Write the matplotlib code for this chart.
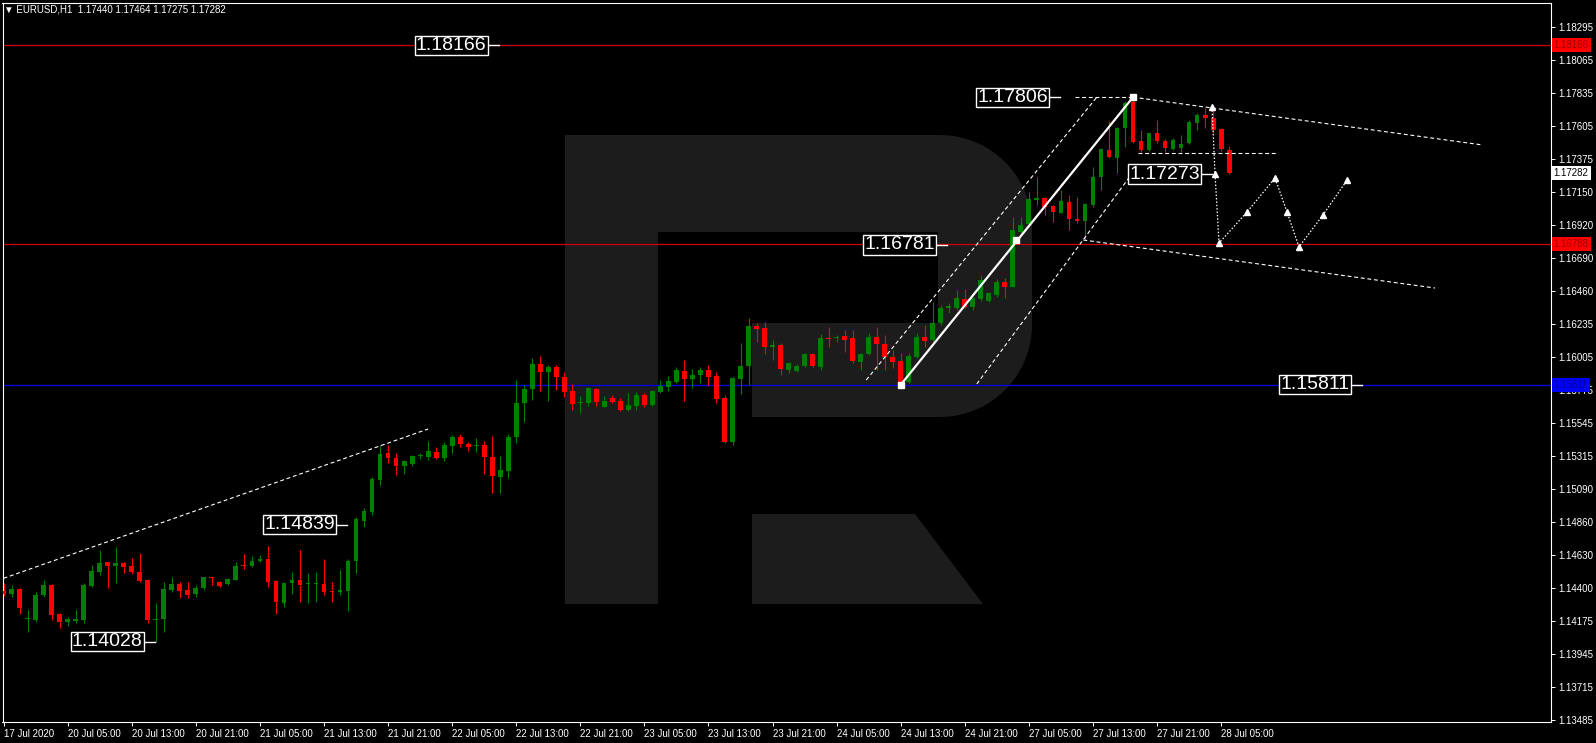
import matplotlib
matplotlib.use('Agg')
import matplotlib.pyplot as plt
from matplotlib.patches import Polygon
import numpy as np

# ---------------- data ----------------
opens = [1.14380, 1.14359, 1.14391, 1.14183, 1.14179, 1.14352, 1.14422, 1.14218, 1.14165, 1.14175,
         1.14179, 1.14417, 1.14509, 1.14579, 1.14553, 1.14577, 1.14553, 1.14514, 1.14456, 1.14179,
         1.14183, 1.14387, 1.14426, 1.14387, 1.14359, 1.14398, 1.14475, 1.14440, 1.14429, 1.14456,
         1.14556, 1.14553, 1.14590, 1.14600, 1.14452, 1.14299, 1.14433, 1.14456, 1.14431, 1.14431,
         1.14429, 1.14380, 1.14373, 1.14382, 1.14585, 1.14866, 1.14930, 1.15150, 1.15335, 1.15305,
         1.15249, 1.15261, 1.15315, 1.15312, 1.15346, 1.15305, 1.15388, 1.15451, 1.15397, 1.15386,
         1.15393, 1.15312, 1.15173, 1.15215, 1.15446, 1.15682, 1.15779, 1.15955, 1.15902, 1.15932,
         1.15862, 1.15770, 1.15684, 1.15682, 1.15779, 1.15659, 1.15722, 1.15698, 1.15636, 1.15663,
         1.15740, 1.15670, 1.15763, 1.15797, 1.15832, 1.15906, 1.15851, 1.15878, 1.15913, 1.15872,
         1.15717, 1.15416, 1.15851, 1.15943, 1.16218, 1.16202, 1.16075, 1.16087, 1.15913, 1.15906,
         1.15941, 1.16022, 1.15937, 1.16135, 1.16133, 1.16149, 1.16133, 1.15971, 1.16022, 1.16140,
         1.16094, 1.16006, 1.15976, 1.15832, 1.16006, 1.16145, 1.16121, 1.16242, 1.16341, 1.16341,
         1.16403, 1.16348, 1.16403, 1.16394, 1.16434, 1.16526, 1.16491, 1.16873, 1.16926, 1.17093,
         1.17104, 1.17051, 1.17005, 1.17081, 1.16961, 1.16949, 1.17058, 1.17255, 1.17440, 1.17386,
         1.17590, 1.17775, 1.17502, 1.17440, 1.17560, 1.17502, 1.17446, 1.17456, 1.17486, 1.17629,
         1.17682, 1.17659, 1.17583, 1.17440]
highs = [1.14433, 1.14422, 1.14398, 1.14248, 1.14375, 1.14456, 1.14429, 1.14230, 1.14202, 1.14248,
         1.14433, 1.14560, 1.14664, 1.14583, 1.14683, 1.14583, 1.14611, 1.14641, 1.14463, 1.14294,
         1.14445, 1.14479, 1.14445, 1.14445, 1.14422, 1.14479, 1.14479, 1.14449, 1.14468, 1.14583,
         1.14637, 1.14623, 1.14630, 1.14692, 1.14456, 1.14445, 1.14514, 1.14664, 1.14503, 1.14514,
         1.14602, 1.14445, 1.14526, 1.14600, 1.14890, 1.14953, 1.15173, 1.15393, 1.15393, 1.15340,
         1.15289, 1.15323, 1.15340, 1.15423, 1.15381, 1.15416, 1.15463, 1.15469, 1.15416, 1.15439,
         1.15421, 1.15455, 1.15317, 1.15469, 1.15844, 1.15809, 1.15999, 1.16010, 1.15948, 1.15948,
         1.15902, 1.15816, 1.15733, 1.15797, 1.15786, 1.15733, 1.15740, 1.15717, 1.15756, 1.15763,
         1.15751, 1.15774, 1.15844, 1.15872, 1.15936, 1.15983, 1.15918, 1.15936, 1.15948, 1.15902,
         1.15740, 1.15867, 1.16098, 1.16272, 1.16237, 1.16249, 1.16121, 1.16098, 1.15971, 1.15955,
         1.16034, 1.16029, 1.16163, 1.16214, 1.16156, 1.16191, 1.16191, 1.16029, 1.16168, 1.16214,
         1.16156, 1.16052, 1.16034, 1.16029, 1.16168, 1.16225, 1.16387, 1.16364, 1.16376, 1.16468,
         1.16473, 1.16422, 1.16572, 1.16457, 1.16542, 1.16549, 1.16977, 1.16977, 1.17150, 1.17255,
         1.17116, 1.17058, 1.17162, 1.17127, 1.17116, 1.17070, 1.17324, 1.17451, 1.17643, 1.17601,
         1.17782, 1.17806, 1.17578, 1.17560, 1.17648, 1.17514, 1.17520, 1.17544, 1.17648, 1.17694,
         1.17729, 1.17740, 1.17590, 1.17464]
lows = [1.14345, 1.14336, 1.14220, 1.14098, 1.14167, 1.14341, 1.14179, 1.14121, 1.14137, 1.14156,
        1.14156, 1.14410, 1.14491, 1.14398, 1.14433, 1.14503, 1.14498, 1.14445, 1.14156, 1.14028,
        1.14098, 1.14375, 1.14329, 1.14329, 1.14341, 1.14387, 1.14422, 1.14405, 1.14422, 1.14456,
        1.14533, 1.14544, 1.14583, 1.14405, 1.14220, 1.14271, 1.14359, 1.14306, 1.14294, 1.14306,
        1.14352, 1.14306, 1.14352, 1.14243, 1.14503, 1.14826, 1.14907, 1.15115, 1.15266, 1.15185,
        1.15192, 1.15247, 1.15293, 1.15289, 1.15293, 1.15284, 1.15335, 1.15381, 1.15353, 1.15346,
        1.15192, 1.15057, 1.15057, 1.15162, 1.15404, 1.15555, 1.15705, 1.15770, 1.15700, 1.15774,
        1.15728, 1.15636, 1.15617, 1.15663, 1.15663, 1.15654, 1.15682, 1.15631, 1.15631, 1.15636,
        1.15654, 1.15663, 1.15751, 1.15770, 1.15825, 1.15698, 1.15786, 1.15820, 1.15809, 1.15682,
        1.15409, 1.15393, 1.15747, 1.15809, 1.16110, 1.16024, 1.15983, 1.15879, 1.15895, 1.15897,
        1.15932, 1.15937, 1.15913, 1.16075, 1.16110, 1.16040, 1.15964, 1.15913, 1.16017, 1.15913,
        1.15913, 1.15925, 1.15811, 1.15825, 1.15994, 1.16075, 1.16110, 1.16225, 1.16306, 1.16329,
        1.16341, 1.16329, 1.16394, 1.16387, 1.16422, 1.16410, 1.16487, 1.16861, 1.16908, 1.17058,
        1.16988, 1.16942, 1.17000, 1.16884, 1.16931, 1.16815, 1.17046, 1.17162, 1.17382, 1.17278,
        1.17463, 1.17490, 1.17428, 1.17435, 1.17486, 1.17428, 1.17440, 1.17428, 1.17481, 1.17578,
        1.17590, 1.17560, 1.17435, 1.17275]
closes = [1.14359, 1.14391, 1.14260, 1.14190, 1.14352, 1.14422, 1.14213, 1.14165, 1.14183, 1.14183,
          1.14422, 1.14521, 1.14577, 1.14553, 1.14577, 1.14549, 1.14514, 1.14452, 1.14179, 1.14183,
          1.14391, 1.14426, 1.14382, 1.14352, 1.14403, 1.14475, 1.14468, 1.14417, 1.14463, 1.14553,
          1.14551, 1.14588, 1.14600, 1.14445, 1.14304, 1.14433, 1.14456, 1.14419, 1.14435, 1.14435,
          1.14375, 1.14376, 1.14387, 1.14588, 1.14880, 1.14935, 1.15157, 1.15330, 1.15305, 1.15249,
          1.15282, 1.15319, 1.15319, 1.15351, 1.15300, 1.15393, 1.15451, 1.15397, 1.15381, 1.15390,
          1.15312, 1.15180, 1.15219, 1.15451, 1.15687, 1.15779, 1.15955, 1.15902, 1.15936, 1.15862,
          1.15763, 1.15677, 1.15688, 1.15786, 1.15693, 1.15698, 1.15693, 1.15636, 1.15670, 1.15740,
          1.15670, 1.15770, 1.15802, 1.15837, 1.15913, 1.15851, 1.15878, 1.15913, 1.15862, 1.15712,
          1.15416, 1.15855, 1.15943, 1.16218, 1.16198, 1.16075, 1.16087, 1.15918, 1.15964, 1.15941,
          1.16022, 1.15941, 1.16133, 1.16126, 1.16145, 1.16121, 1.15978, 1.16022, 1.16140, 1.16094,
          1.16001, 1.15971, 1.15832, 1.16010, 1.16145, 1.16117, 1.16242, 1.16341, 1.16357, 1.16410,
          1.16352, 1.16410, 1.16538, 1.16445, 1.16526, 1.16491, 1.16884, 1.16919, 1.17097, 1.17104,
          1.17046, 1.17012, 1.17086, 1.16958, 1.16949, 1.17065, 1.17255, 1.17444, 1.17389, 1.17590,
          1.17768, 1.17497, 1.17440, 1.17555, 1.17502, 1.17451, 1.17509, 1.17481, 1.17636, 1.17682,
          1.17659, 1.17578, 1.17444, 1.17282]

x_tick_labels = ["17 Jul 2020", "20 Jul 05:00", "20 Jul 13:00", "20 Jul 21:00", "21 Jul 05:00",
                 "21 Jul 13:00", "21 Jul 21:00", "22 Jul 05:00", "22 Jul 13:00", "22 Jul 21:00",
                 "23 Jul 05:00", "23 Jul 13:00", "23 Jul 21:00", "24 Jul 05:00", "24 Jul 13:00",
                 "24 Jul 21:00", "27 Jul 05:00", "27 Jul 13:00", "27 Jul 21:00", "28 Jul 05:00"]
x_tick_step = 8
y_tick_values = [1.18295, 1.18065, 1.17835, 1.17605, 1.17375, 1.17150, 1.16920, 1.16690, 1.16460,
                 1.16235, 1.16005, 1.15775, 1.15545, 1.15315, 1.15090, 1.14860, 1.14630, 1.14400,
                 1.14175, 1.13945, 1.13715, 1.13485]

symbol = "EURUSD,H1"
red_levels = [1.18166, 1.16788]
blue_levels = [1.15811]

# price label boxes (value, bar index where the leader ends)
label_values = [1.18166, 1.17806, 1.17273, 1.16781, 1.15811, 1.14839, 1.14028]
label_anchor_bars = [61.85, 131.9, 150.9, 117.8, 169.6, 42.9, 18.9]

# drawn analysis lines (bar index, price)
trend_left_x, trend_left_y = [0, 53], [1.14468, 1.15504]
chan_up_x, chan_up_y = [107.7, 136.5], [1.15844, 1.17807]
chan_lo_x, chan_lo_y = [121.5, 141.2], [1.15816, 1.17300]
top_flat_x, top_flat_y = [133.8, 141], [1.17806, 1.17806]
wedge_up_x, wedge_up_y = [141, 184.7], [1.17806, 1.17474]
wedge_lo_x, wedge_lo_y = [134.8, 178.7], [1.16815, 1.16482]
neck_x, neck_y = [141.6, 159], [1.17422, 1.17422]
impulse_x, impulse_y = [112, 141], [1.15811, 1.17806]
impulse_mid_x, impulse_mid_y = [126.4], [1.16814]
path_x = [150.86, 151.24, 151.74, 155.23, 158.73, 160.23, 161.72, 164.72, 167.72]
path_y = [1.17738, 1.17273, 1.16794, 1.17009, 1.17245, 1.17009, 1.16767, 1.16989, 1.17231]

# ---------------- layout ----------------
plt.rcParams['font.family'] = ['Liberation Sans', 'DejaVu Sans']
W, H = 1596, 743
fig = plt.figure(figsize=(W / 100, H / 100), dpi=100, facecolor='black')

# watermark axes (pixel space)
bg = fig.add_axes([0, 0, 1, 1], zorder=0)
bg.set_xlim(0, W)
bg.set_ylim(H, 0)
bg.axis('off')


def arc(cx, cy, r, a0, a1, n=24):
    t = np.radians(np.linspace(a0, a1, n))
    return list(zip(cx + r * np.cos(t), cy + r * np.sin(t)))


wm = '#1c1c1c'
outer = ([(565, 135), (940, 135)] + arc(940, 227, 92, -90, 0) + [(1032, 325)]
         + arc(940, 325, 92, 0, 90)
         + [(752, 417), (752, 323), (938, 323), (938, 232), (658, 232), (658, 604), (565, 604)])
bg.add_patch(Polygon(outer, closed=True, facecolor=wm, edgecolor='none'))
bg.add_patch(Polygon([(752, 514), (752, 604), (983, 604), (915, 514)], closed=True,
                     facecolor=wm, edgecolor='none'))

# main axes
Lp, Rp, Tp, Bp = 2.5, 1551, 2.7, 721.7
ax = fig.add_axes([Lp / W, (H - Bp) / H, (Rp - Lp) / W, (Bp - Tp) / H], zorder=1)
ax.patch.set_visible(False)
bar_px, bar0_px = 8.01, 3.6
ax.set_xlim((Lp - bar0_px) / bar_px, (Rp - bar0_px) / bar_px)
ppp, ref_p, ref_y = 6.938e-5, 1.18295, 26.7
ax.set_ylim(ref_p - (Bp - ref_y) * ppp, ref_p + (ref_y - Tp) * ppp)

for s in ax.spines.values():
    s.set_color('white')
    s.set_linewidth(0.8)

# horizontal levels
for lv in red_levels:
    ax.axhline(lv, color='#d00000', lw=0.9, zorder=2)
for lv in blue_levels:
    ax.axhline(lv, color='#0000f0', lw=0.9, zorder=2)

# candles
o = np.array(opens); h = np.array(highs); l = np.array(lows); c = np.array(closes)
idx = np.arange(len(o))
cols = np.where(c >= o, '#008000', '#ff0000')
ax.vlines(idx, l, h, colors=cols, lw=0.8, zorder=3)
ax.bar(idx, np.maximum(np.abs(c - o), 7e-5), bottom=np.minimum(o, c), width=0.6,
       color=cols, linewidth=0, zorder=4)

# analysis lines
dash = (0, (3.5, 2.5))
for xs, ys in [(trend_left_x, trend_left_y), (chan_up_x, chan_up_y), (chan_lo_x, chan_lo_y),
               (top_flat_x, top_flat_y), (wedge_up_x, wedge_up_y), (wedge_lo_x, wedge_lo_y),
               (neck_x, neck_y)]:
    ax.plot(xs, ys, color='white', lw=0.8, ls=dash, zorder=5)
ax.plot(impulse_x, impulse_y, color='white', lw=1.6, zorder=5)
ax.plot([impulse_x[0], impulse_x[1], impulse_mid_x[0]], [impulse_y[0], impulse_y[1], impulse_mid_y[0]],
        ls='none', marker='s', ms=4, color='white', zorder=6)
ax.plot(path_x, path_y, color='white', lw=0.9, ls=(0, (1.2, 1.5)), zorder=5)
ax.plot(path_x, path_y, ls='none', marker='^', ms=4, color='white', zorder=6)

# price label boxes
for v, a in zip(label_values, label_anchor_bars):
    ax.plot([a - 1.3, a], [v, v], color='white', lw=1.0, zorder=6)
    ax.text(a - 1.55, v, f'{v:.5f}', ha='right', va='center', fontsize=14, color='white',
            zorder=7, bbox=dict(boxstyle='square,pad=0.06', facecolor='black',
                                edgecolor='white', linewidth=1.0))

# ticks
ax.set_xticks(np.arange(len(x_tick_labels)) * x_tick_step)
ax.set_xticklabels(x_tick_labels)
for t in ax.get_xticklabels():
    t.set_ha('left')
ax.set_yticks(y_tick_values)
ax.set_yticklabels([f'{v:.5f}' for v in y_tick_values])
ax.yaxis.tick_right()
ax.tick_params(axis='both', colors='white', labelcolor='white', labelsize=7, length=3,
               width=0.7, pad=2)

# right-axis price tags
ytr = ax.get_yaxis_transform()
tags = [(red_levels[0], '#ff0000', '#a00000'), (closes[-1], 'white', 'black'),
        (red_levels[1], '#ff0000', '#a00000'), (blue_levels[0], '#0000ff', '#000090')]
for v, bgc, fgc in tags:
    ax.text(1.0018, v, f'{v:.5f}', transform=ytr, ha='left', va='center', fontsize=7,
            color=fgc, zorder=8, clip_on=False,
            bbox=dict(boxstyle='square,pad=0.2', facecolor=bgc, edgecolor='none'))

# header
fig.text(4 / W, 1 - 10 / H,
         f'\u25BC {symbol}  {opens[-1]:.5f} {highs[-1]:.5f} {lows[-1]:.5f} {closes[-1]:.5f}',
         color='white', fontsize=7, ha='left', va='center')

fig.savefig('out.png', dpi=100, facecolor='black')
